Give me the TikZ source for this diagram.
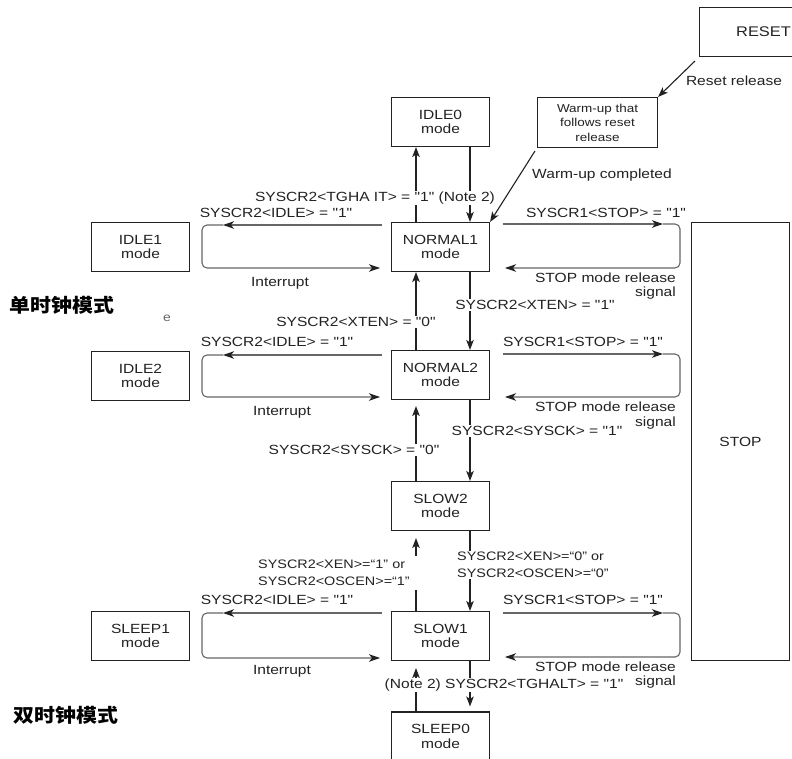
\documentclass[tikz,border=0pt]{standalone}
\usepackage{fontspec}
\setmainfont{Liberation Sans}
\newfontfamily\lab[FakeStretch=1.17]{Liberation Sans}
\newfontfamily\cjk[FakeStretch=1.1]{Noto Sans CJK SC}
\usetikzlibrary{arrows.meta}
\definecolor{ink}{HTML}{222222}
\definecolor{gline}{HTML}{666666}
\begin{document}
\begin{tikzpicture}[x=1pt,y=-1pt,
  font=\lab\fontsize{13.3}{14.5}\selectfont, text=ink,
  box/.style={draw=ink, line width=1.1pt, minimum width=98pt, minimum height=49pt, inner sep=0pt, align=center},
  arr/.style={draw=ink, line width=1.1pt, -{Stealth[length=10pt,width=7.5pt,inset=2.5pt]}},
  loopl/.style={draw=gline, line width=1.1pt, rounded corners=5pt},
  ltip/.style={-{Stealth[length=11pt,width=7.5pt,inset=3pt,color=ink]}},
  lbl/.style={inner sep=1pt},
  wlbl/.style={fill=white, inner sep=1pt},
]
\useasboundingbox (0,0) rectangle (792,759);
\fill[white] (0,0) rectangle (792,759);

% boxes
\node[box, minimum width=128pt, minimum height=49pt, font=\lab\fontsize{14}{16}\selectfont] (R) at (763.5,32) {RESET};
\node[box, minimum width=120pt, minimum height=50pt, font=\lab\fontsize{11.5}{14.5}\selectfont] (W) at (597.5,122.5) {Warm-up that\\follows reset\\release};
\node[box] (I0) at (440.5,122) {IDLE0\\mode};
\node[box] (N1) at (440.5,247) {NORMAL1\\mode};
\node[box] (I1) at (140.5,247) {IDLE1\\mode};
\node[box] (I2) at (140.5,376) {IDLE2\\mode};
\node[box] (N2) at (440.5,375) {NORMAL2\\mode};
\node[box] (S2) at (440.5,506) {SLOW2\\mode};
\node[box] (S1) at (440.5,636) {SLOW1\\mode};
\node[box] (SP1) at (140.5,636) {SLEEP1\\mode};
\node[box] (SP0) at (440.5,736.5) {SLEEP0\\mode};
\node[box, minimum width=98pt, minimum height=438pt] (ST) at (740.5,441.5) {STOP};

\coordinate (xl) at (416,0);
\coordinate (xr) at (470,0);

% straight transitions
\draw[arr] ([shift={(-4,4)}]R.south west) -- (W.north east);
\draw[arr] ([shift={(-2,3)}]W.south west) -- (N1.north east);
\draw[arr] (N1.north -| xl) -- (I0.south -| xl);
\draw[arr] (I0.south -| xr) -- (N1.north -| xr);
\draw[arr] (N1.south -| xr) -- (N2.north -| xr);
\draw[arr] (N2.north -| xl) -- (N1.south -| xl);
\draw[arr] (N2.south -| xr) -- (S2.north -| xr);
\draw[arr, shorten >=6pt] (S2.north -| xl) -- (N2.south -| xl);
\draw[arr] (S2.south -| xr) -- (S1.north -| xr);
\draw[arr, shorten >=7pt] (S1.north -| xl) -- (S2.south -| xl);
\draw[arr, shorten >=5pt] (S1.south -| xr) -- (SP0.north -| xr);
\draw[arr, shorten >=7pt] (SP0.north -| xl) -- (S1.south -| xl);

% loops to IDLE / SLEEP (left)
\foreach \t/\b in {225/268, 355/397, 613/658}{
  \draw[loopl, ltip] (382,\t) -- (223,\t);
  \draw[loopl, ltip] (223,\t) -- (202,\t) -- (202,\b) -- (380,\b);
}
% loops to STOP (right)
\foreach \t/\b in {224/268, 354/397, 613/657}{
  \draw[loopl, ltip] (503,\t) -- (663,\t);
  \draw[loopl, ltip] (663,\t) -- (680,\t) -- (680,\b) -- (505,\b);
}

% labels
\node[lbl] (lrr) at (734,81) {Reset release};
\node[lbl] (lwc) at (602,175) {Warm-up completed};
\node[wlbl] (ltg) at (375,198) {SYSCR2<TGHA IT> = "1" (Note 2)};
\node[lbl] (lid1) at (276,213) {SYSCR2<IDLE> = "1"};
\node[lbl] (lid2) at (277,342) {SYSCR2<IDLE> = "1"};
\node[lbl] (lid3) at (277,600) {SYSCR2<IDLE> = "1"};
\node[lbl] (lin1) at (280,283) {Interrupt};
\node[lbl] (lin2) at (282,412) {Interrupt};
\node[lbl] (lin3) at (282,671) {Interrupt};
\node[lbl] (lst1) at (606,213) {SYSCR1<STOP> = "1"};
\node[lbl] (lst2) at (583,342) {SYSCR1<STOP> = "1"};
\node[lbl] (lst3) at (583,600) {SYSCR1<STOP> = "1"};
\node[lbl, anchor=east, align=right] (lsr1) at (677,286) {STOP mode release\\signal};
\node[lbl, anchor=east, align=right] (lsr2) at (677,415.5) {STOP mode release\\signal};
\node[lbl, anchor=east, align=right] (lsr3) at (677,675) {STOP mode release\\signal};
\node[wlbl] (lx1) at (535,305) {SYSCR2<XTEN> = "1"};
\node[wlbl] (lx0) at (356,322) {SYSCR2<XTEN> = "0"};
\node[wlbl] (lk1) at (537,431) {SYSCR2<SYSCK> = "1"};
\node[wlbl] (lk0) at (354,450) {SYSCR2<SYSCK> = "0"};
\node[wlbl, anchor=west, align=left, text width=162pt, inner ysep=4pt, font=\lab\fontsize{12.3}{17.5}\selectfont] (lxe1) at (257,573) {SYSCR2<XEN>=“1” or\\SYSCR2<OSCEN>=“1”};
\node[wlbl, anchor=west, align=left, font=\lab\fontsize{12.3}{16.5}\selectfont] (lxe0) at (456,565) {SYSCR2<XEN>=“0” or\\SYSCR2<OSCEN>=“0”};
\node[wlbl] (ltg2) at (504,685) {(Note 2) SYSCR2<TGHALT> = "1"};
\node[lbl, text=gline, font=\lab\fontsize{12}{14}\selectfont] (le) at (167,318) {e};
\node[lbl, font=\cjk\bfseries\fontsize{19}{21}\selectfont, text=black] (cj1) at (62,305) {单时钟模式};
\node[lbl, font=\cjk\bfseries\fontsize{19}{21}\selectfont, text=black] (cj2) at (66,715) {双时钟模式};
\end{tikzpicture}
\end{document}
